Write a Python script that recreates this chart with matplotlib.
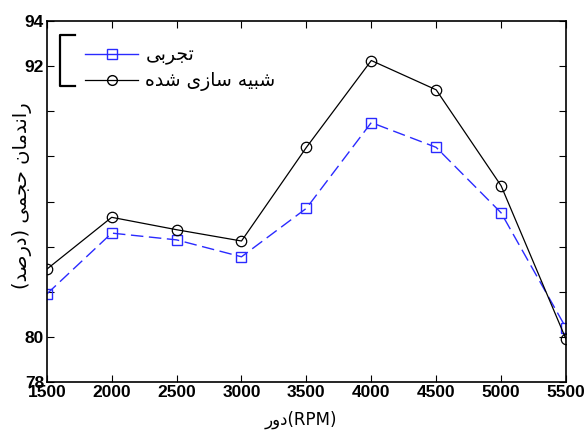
import matplotlib
matplotlib.use('Agg')
import matplotlib.pyplot as plt
from matplotlib.lines import Line2D

# Data
rpm = [1500, 2000, 2500, 3000, 3500, 4000, 4500, 5000, 5500]
experimental = [81.9, 84.6, 84.3, 83.55, 85.7, 89.5, 88.4, 85.5, 80.4]
simulated = [83.0, 85.3, 84.75, 84.25, 88.4, 92.25, 90.95, 86.7, 79.9]

y_ticks = [78, 80, 82, 84, 86, 88, 90, 92, 94]
y_tick_labels = ['78', '80', '', '', '', '', '', '92', '94']

label_exp = 'تجربی'
label_sim = 'شبیه سازی شده'
y_title = 'راندمان حجمی (درصد)'
x_title_fa = 'دور'
x_title_en = '(RPM)'

BLUE = '#2a2aff'

# Arabic presentation forms: isolated, final, initial, medial
FORMS = {
    'ا': ('\uFE8D', '\uFE8E', None, None),
    'ب': ('\uFE8F', '\uFE90', '\uFE91', '\uFE92'),
    'ت': ('\uFE95', '\uFE96', '\uFE97', '\uFE98'),
    'ج': ('\uFE9D', '\uFE9E', '\uFE9F', '\uFEA0'),
    'ح': ('\uFEA1', '\uFEA2', '\uFEA3', '\uFEA4'),
    'د': ('\uFEA9', '\uFEAA', None, None),
    'ر': ('\uFEAD', '\uFEAE', None, None),
    'ز': ('\uFEAF', '\uFEB0', None, None),
    'س': ('\uFEB1', '\uFEB2', '\uFEB3', '\uFEB4'),
    'ش': ('\uFEB5', '\uFEB6', '\uFEB7', '\uFEB8'),
    'ص': ('\uFEB9', '\uFEBA', '\uFEBB', '\uFEBC'),
    'م': ('\uFEE1', '\uFEE2', '\uFEE3', '\uFEE4'),
    'ن': ('\uFEE5', '\uFEE6', '\uFEE7', '\uFEE8'),
    'ه': ('\uFEE9', '\uFEEA', '\uFEEB', '\uFEEC'),
    'و': ('\uFEED', '\uFEEE', None, None),
    'ی': ('\uFEEF', '\uFEF0', '\uFEF3', '\uFEF4'),
}
MIRROR = {'(': ')', ')': '('}


def dual(c):
    return c in FORMS and FORMS[c][2] is not None


def fa(text):
    """Shape Persian text and return it in visual (left to right) order."""
    out = []
    for i, c in enumerate(text):
        if c not in FORMS:
            out.append(MIRROR.get(c, c))
            continue
        prev_join = i > 0 and dual(text[i - 1])
        next_join = dual(c) and i + 1 < len(text) and text[i + 1] in FORMS
        iso, fin, ini, med = FORMS[c]
        if prev_join and next_join:
            out.append(med)
        elif prev_join:
            out.append(fin)
        elif next_join:
            out.append(ini)
        else:
            out.append(iso)
    return ''.join(reversed(out))


FA_FONT = ['DejaVu Sans']
plt.rcParams['font.family'] = ['Liberation Sans', 'DejaVu Sans']

fig = plt.figure(figsize=(5.85, 4.3), dpi=100)
ax = fig.add_axes([0.080, 0.1116, 0.8875, 0.8395])

ax.plot(rpm, experimental, color=BLUE, linestyle=(0, (9, 4)), linewidth=1.0,
        marker='s', markersize=7, markerfacecolor='none', markeredgecolor=BLUE,
        markeredgewidth=1.0)
ax.plot(rpm, simulated, color='black', linestyle='-', linewidth=0.9,
        marker='o', markersize=7.5, markerfacecolor='none', markeredgecolor='black',
        markeredgewidth=0.9)

ax.set_xlim(1500, 5500)
ax.set_ylim(78, 94)
ax.set_xticks(rpm)
ax.set_yticks(y_ticks)
ax.set_yticklabels(y_tick_labels)
ax.tick_params(direction='in', length=5, width=0.8, top=True, right=True,
               labelsize=12.5, pad=2)
for lab in ax.get_xticklabels() + ax.get_yticklabels():
    lab.set_fontweight('bold')
for sp in ax.spines.values():
    sp.set_linewidth(1.2)

ax.set_ylabel(fa(y_title), fontsize=14, family=FA_FONT)
ax.yaxis.set_label_coords(-0.028, 0.515)
fig.text(0.515, 0.003, fa(x_title_fa) + x_title_en, fontsize=12,
         family=FA_FONT, ha='center', va='bottom')

# legend with solid handles, as drawn in the reference
handles = [
    Line2D([], [], color=BLUE, linewidth=1.0, marker='s', markersize=7,
           markerfacecolor='none', markeredgecolor=BLUE),
    Line2D([], [], color='black', linewidth=0.9, marker='o', markersize=7,
           markerfacecolor='none', markeredgecolor='black'),
]
ax.legend(handles, [fa(label_exp), fa(label_sim)], loc='upper left',
          bbox_to_anchor=(0.042, 0.98), frameon=False,
          handlelength=2.8, handletextpad=0.4, labelspacing=0.35,
          prop={'family': FA_FONT, 'size': 13.5})

# partial legend frame as it appears in the reference
bx = [60 / 585, 75 / 585]
by = [1 - 35 / 430, 1 - 86 / 430]
fig.add_artist(Line2D([bx[1], bx[0], bx[0], bx[1]], [by[0], by[0], by[1], by[1]],
                      color='black', linewidth=1.6, transform=fig.transFigure))

fig.savefig('out.png', dpi=100)
